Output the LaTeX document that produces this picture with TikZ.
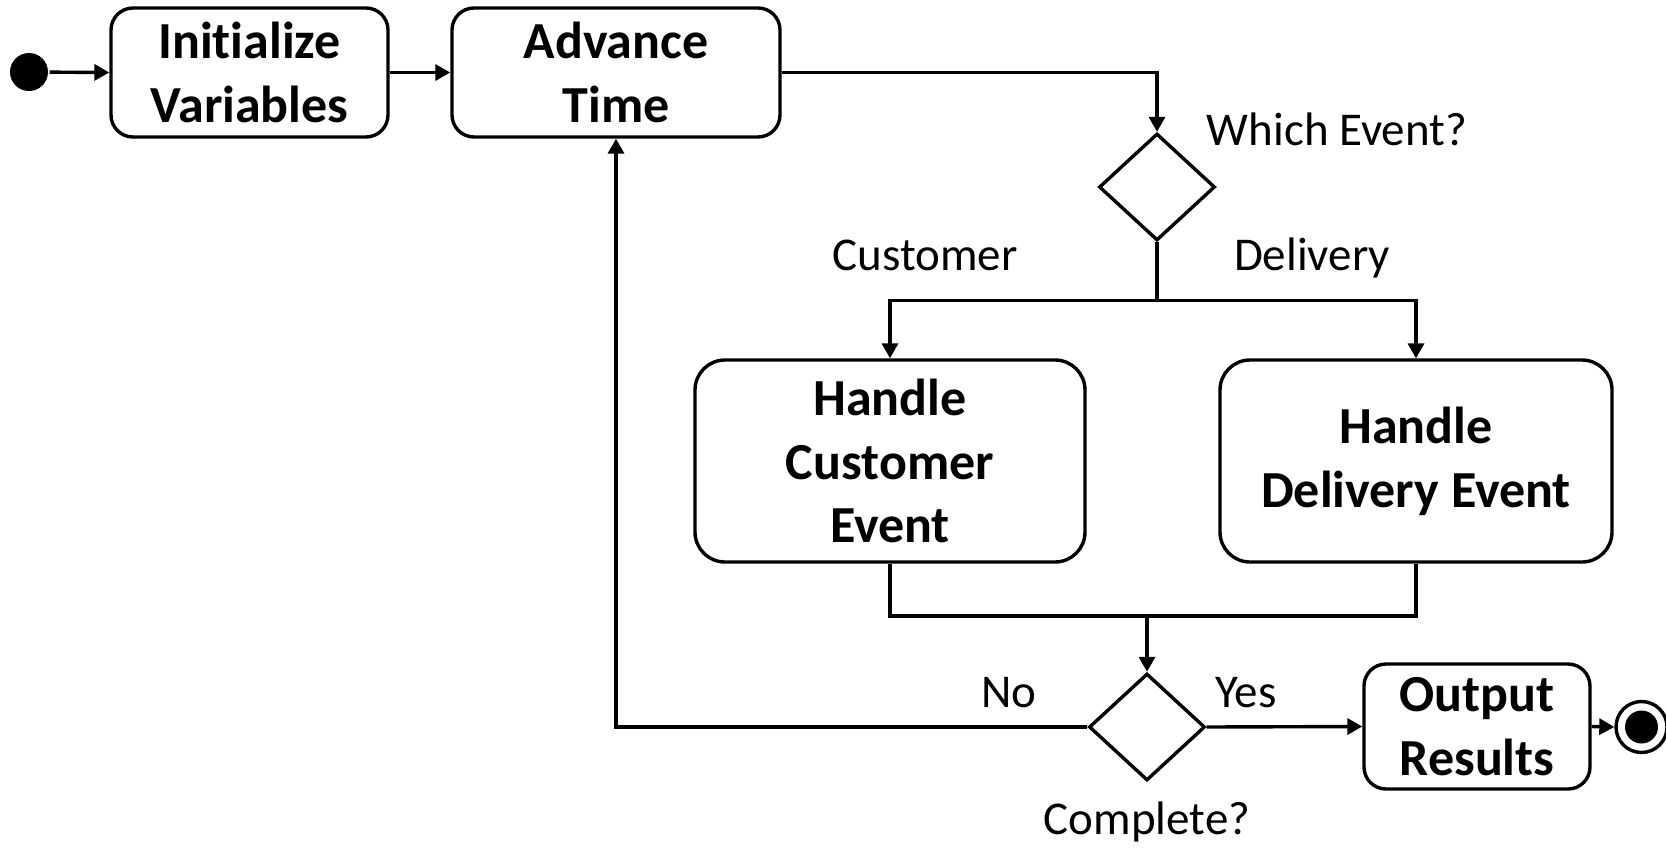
\documentclass[tikz,border=0pt]{standalone}
\usepackage{fontspec}
\setmainfont{Carlito}[Ligatures=NoCommon]
\usetikzlibrary{shapes.geometric,arrows.meta}
\begin{document}
\begin{tikzpicture}[x=1pt,y=-1pt,
  line width=3.4pt,
  act/.style={draw, rounded corners=22pt, align=center, inner sep=0pt,
    font=\fontsize{52}{63.75}\selectfont\bfseries},
  dec/.style={draw, diamond, inner sep=0pt, minimum width=116pt, minimum height=107pt},
  lbl/.style={font=\fontsize{47}{57}\selectfont, inner sep=0pt, anchor=base},
  flow/.style={-{Triangle[length=15pt,width=16pt]}},
]
\useasboundingbox (0,0) rectangle (1666,847);

% initial and final states
\node[circle, fill=black, minimum size=38pt, inner sep=0pt] (start) at (29,72) {};
\node[circle, draw, fill=white, minimum size=51pt, inner sep=0pt] (end) at (1641.5,727) {};
\fill (end.center) circle (16.5pt);

% activities
\node[act, minimum width=277pt, minimum height=129pt] (init) at (249.5,72.5) {Initialize\\Variables};
\node[act, minimum width=328pt, minimum height=129pt] (advance) at (616,72.5) {Advance\\Time};
\node[act, rounded corners=30pt, minimum width=390pt, minimum height=202pt] (handleC) at (890,461) {Handle\\Customer\\Event};
\node[act, rounded corners=30pt, minimum width=392pt, minimum height=202pt] (handleD) at (1416,461) {Handle\\Delivery Event};
\node[act, minimum width=226pt, minimum height=125pt] (output) at (1477,726.5) {Output\\Results};

% decisions
\node[dec] (which) at (1157,187) {};
\node[dec] (complete) at (1147,727) {};

% labels
\node[lbl] (lwhich) at (1337,145) {Which Event?};
\node[lbl] (lcust) at (925,270) {Customer};
\node[lbl] (ldeliv) at (1312,270) {Delivery};
\node[lbl] (lno) at (1009,707) {No};
\node[lbl] (lyes) at (1246,707) {Yes};
\node[lbl] (lcomplete) at (1147,834) {Complete?};

% junction points
\coordinate (split) at (1157,300.7);
\coordinate (merge) at (1147,616);

% connectors
\draw[flow] (start) -- (init.west);
\draw[flow] (init.east) -- (advance.west);
\draw[flow] (advance.east) -| (which.north);
\draw (which.south) -- (split);
\draw[flow] (split) -| (handleC.north);
\draw[flow] (split) -| (handleD.north);
\draw (handleC.south) |- (merge);
\draw (handleD.south) |- (merge);
\draw[flow] (merge) -- (complete.north);
\draw[flow] (complete.west) -| (advance.south);
\draw[flow] (complete.east) -- (output.west);
\draw[flow] (output.east) -- (end.west);
\end{tikzpicture}
\end{document}
